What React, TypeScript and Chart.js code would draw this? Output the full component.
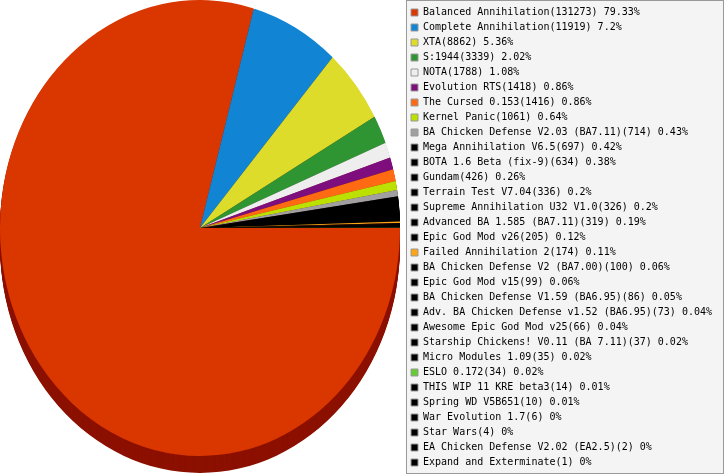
import React, { useEffect, useRef } from 'react';
import { Chart, registerables } from 'chart.js';

Chart.register(...registerables);

const names = [
  'Balanced Annihilation',
  'Complete Annihilation',
  'XTA',
  'S:1944',
  'NOTA',
  'Evolution RTS',
  'The Cursed 0.153',
  'Kernel Panic',
  'BA Chicken Defense V2.03 (BA7.11)',
  'Mega Annihilation V6.5',
  'BOTA 1.6 Beta (fix-9)',
  'Gundam',
  'Terrain Test V7.04',
  'Supreme Annihilation U32 V1.0',
  'Advanced BA 1.585 (BA7.11)',
  'Epic God Mod v26',
  'Failed Annihilation 2',
  'BA Chicken Defense V2 (BA7.00)',
  'Epic God Mod v15',
  'BA Chicken Defense V1.59 (BA6.95)',
  'Adv. BA Chicken Defense v1.52 (BA6.95)',
  'Awesome Epic God Mod v25',
  'Starship Chickens! V0.11 (BA 7.11)',
  'Micro Modules 1.09',
  'ESLO 0.172',
  'THIS WIP 11 KRE beta3',
  'Spring WD V5B651',
  'War Evolution 1.7',
  'Star Wars',
  'EA Chicken Defense V2.02 (EA2.5)',
  'Expand and Exterminate',
];

const counts = [
  131273, 11919, 8862, 3339, 1788, 1418, 1416, 1061, 714, 697, 634, 426, 336, 326, 319, 205,
  174, 100, 99, 86, 73, 66, 37, 35, 34, 14, 10, 6, 4, 2, 1,
];

const percents = [
  79.33, 7.2, 5.36, 2.02, 1.08, 0.86, 0.86, 0.64, 0.43, 0.42, 0.38, 0.26, 0.2, 0.2, 0.19, 0.12,
  0.11, 0.06, 0.06, 0.05, 0.04, 0.04, 0.02, 0.02, 0.02, 0.01, 0.01, 0, 0, 0, 0,
];

const colors = [
  '#DA3600', '#1185D4', '#DEDC2A', '#2E9532', '#EEEEEE', '#7E0E7E', '#FF6A12', '#BCE000',
  '#A0A0A0', '#000000', '#000000', '#000000', '#000000', '#000000', '#000000', '#000000',
  '#FFA514', '#000000', '#000000', '#000000', '#000000', '#000000', '#000000', '#000000',
  '#66CC33', '#000000', '#000000', '#000000', '#000000', '#000000', '#000000',
];

const labels = names.map((n, i) => `${n}(${counts[i]}) ${percents[i]}%`);

const ELLIPSE_SY = 1.14;
const DEPTH = 17;

function darken(hex: string): string {
  const v = parseInt(hex.slice(1), 16);
  const r = Math.round(((v >> 16) & 255) * 0.64);
  const g = Math.round(((v >> 8) & 255) * 0.3);
  const b = Math.round((v & 255) * 0.3);
  return `rgb(${r},${g},${b})`;
}

const legendBoxPlugin = {
  id: 'legendBox',
  beforeDraw(chart: any) {
    const lg = chart.legend;
    if (!lg) return;
    const ctx = chart.ctx;
    ctx.save();
    const x = Math.floor(lg.left) + 0.5;
    const y = 0.5;
    const w = chart.width - 1.5 - x;
    const h = chart.height - 1.5 - y;
    ctx.fillStyle = '#F4F4F4';
    ctx.fillRect(x, y, w, h);
    ctx.strokeStyle = '#999999';
    ctx.lineWidth = 1;
    ctx.strokeRect(x, y, w, h);
    ctx.restore();
  },
};

const pie3dPlugin = {
  id: 'pie3d',
  beforeDatasetsDraw(chart: any) {
    const meta = chart.getDatasetMeta(0);
    if (!meta || !meta.data.length) return;
    const ctx = chart.ctx;
    const first = meta.data[0];
    const cx = first.x;
    const cy = first.y;
    const R = first.outerRadius;
    const area = chart.chartArea;
    ctx.save();
    ctx.translate(area.left + R, area.top + R * ELLIPSE_SY);
    ctx.scale(1, ELLIPSE_SY);
    ctx.translate(-cx, -cy);
    for (let d = DEPTH; d > 0; d -= 1) {
      meta.data.forEach((arc: any, i: number) => {
        if (arc.endAngle - arc.startAngle <= 0) return;
        const oy = cy + d / ELLIPSE_SY;
        ctx.beginPath();
        ctx.moveTo(cx, oy);
        ctx.arc(cx, oy, R, arc.startAngle, arc.endAngle);
        ctx.closePath();
        ctx.fillStyle = darken(colors[i]);
        ctx.fill();
      });
    }
  },
  afterDatasetsDraw(chart: any) {
    chart.ctx.restore();
  },
};

export default function App() {
  const canvasRef = useRef<HTMLCanvasElement | null>(null);

  useEffect(() => {
    document.body.style.margin = '0';
    const canvas = canvasRef.current;
    if (!canvas) return;
    const chart = new Chart(canvas, {
      type: 'pie',
      data: {
        labels,
        datasets: [
          {
            data: counts,
            backgroundColor: colors,
            borderWidth: 0,
            clip: false,
          } as any,
        ],
      },
      options: {
        responsive: false,
        animation: false,
        rotation: 90,
        radius: 200,
        events: [],
        layout: { padding: { left: 0, right: 3, top: 0, bottom: 0 } },
        plugins: {
          tooltip: { enabled: false },
          legend: {
            position: 'right',
            align: 'center',
            labels: {
              boxWidth: 7,
              boxHeight: 7,
              padding: 5,
              color: '#000000',
              font: { family: '"DejaVu Sans Mono", "Liberation Mono", monospace', size: 10 },
              generateLabels: (c: any) =>
                c.data.labels.map((t: string, i: number) => ({
                  text: t,
                  fillStyle: colors[i],
                  strokeStyle: '#999999',
                  lineWidth: 1,
                  hidden: false,
                  index: i,
                  fontColor: '#000000',
                })),
            },
          },
        },
      },
      plugins: [legendBoxPlugin, pie3dPlugin],
    });
    return () => chart.destroy();
  }, []);

  return (
    <div style={{ width: 725, height: 475 }}>
      <canvas ref={canvasRef} width={725} height={475} style={{ display: 'block' }} />
    </div>
  );
}
